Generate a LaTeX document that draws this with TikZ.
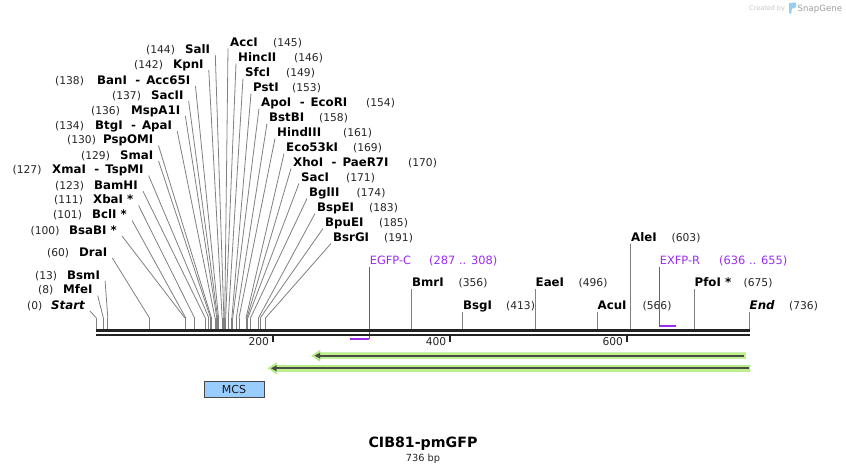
\documentclass[tikz,border=0pt]{standalone}
\usepackage{fontspec}
\setmainfont{DejaVu Sans}
\usetikzlibrary{calc}
\definecolor{trk}{RGB}{35,35,35}
\definecolor{cn}{RGB}{128,128,128}
\definecolor{prm}{RGB}{155,45,240}
\definecolor{glow}{RGB}{190,240,140}
\definecolor{glowedge}{RGB}{165,225,110}
\definecolor{fdark}{RGB}{72,76,68}
\definecolor{mcsfill}{RGB}{153,204,255}
\definecolor{mcsedge}{RGB}{70,70,70}
\definecolor{logoblue}{RGB}{150,205,240}
\tikzset{
  nm/.style={inner sep=0pt, font=\fontsize{11.8}{13}\selectfont\bfseries, text=black},
  num/.style={inner sep=0pt, font=\fontsize{10.7}{12}\selectfont, text=black!85},
  prmtxt/.style={inner sep=0pt, font=\fontsize{11.4}{13}\selectfont, text=prm},
  conn/.style={draw=cn, line width=0.8pt},
  sitetick/.style={draw=cn, line width=0.8pt},
  trackline/.style={draw=trk},
  featline/.style={draw=fdark, line width=2.3pt},
  mcsbox/.style={draw=mcsedge, fill=mcsfill, line width=0.9pt, minimum width=60pt,
    minimum height=16.3pt, inner sep=0pt, font=\fontsize{11}{12}\selectfont, text=black!90}
}
\newcommand\dsep{\hspace{8.5pt}-\hspace{6pt}}
% left-hand cut sites: id, bp, number x, name x, y, name
\newcommand\lsite[6]{%
  \coordinate (t#1) at ({96.3+0.886*#2},318);
  \node[num,anchor=base west] (n#1) at (#3,#5+4) {(#2)};
  \node[nm,anchor=base west] (m#1) at (#4,#5+4) {#6};
  \draw[sitetick] (t#1) -- ++(0,11);
  \draw[conn] ($(m#1.base east)+(5,2)$) -- (t#1);
}
% right-hand cut sites: id, bp, name x, number x, y, name
\newcommand\rsite[6]{%
  \coordinate (t#1) at ({96.3+0.886*#2},318);
  \node[nm,anchor=base west] (m#1) at (#3,#5+4) {#6};
  \node[num,anchor=base west] (n#1) at (#4,#5+4) {(#2)};
  \draw[sitetick] (t#1) -- ++(0,11);
  \draw[conn] ($(m#1.base west)+(-2,2.5)$) -- (t#1);
}
% vertical cut sites: id, bp, name x, number x, y, name
\newcommand\vsite[6]{%
  \node[nm,anchor=base west] (m#1) at (#3,#5+4) {#6};
  \node[num,anchor=base west] (n#1) at (#4,#5+4) {(#2)};
  \coordinate (t#1) at (#3-0.5,329);
  \draw[conn] ($(m#1.base west)+(-0.5,2.5)$) -- (t#1);
}
% feature arrow pointing left: id, tip x, right x, y
\newcommand\featarrow[4]{%
  \coordinate (#1t) at (#2,#4);
  \coordinate (#1e) at (#3,#4);
  \filldraw[fill=glow, draw=glowedge, line width=0.4pt]
    ($(#1t)+(-1.8,0)$) -- ($(#1t)+(6.5,-5.5)$) -- ($(#1t)+(6.5,-3)$) -- ($(#1e)+(0,-3)$)
    -- ($(#1e)+(0,3)$) -- ($(#1t)+(6.5,3)$) -- ($(#1t)+(6.5,5.5)$) -- cycle;
  \draw[featline] ($(#1e)+(-1.5,0)$) -- ($(#1t)+(5,0)$);
  \fill[fdark] ($(#1t)+(1,0)$) -- ($(#1t)+(6.5,-3)$) -- ($(#1t)+(6.5,3)$) -- cycle;
}
\begin{document}
\begin{tikzpicture}[x=1pt,y=-1pt]
\useasboundingbox (0,0) rectangle (846,474);
\fill[white] (0,0) rectangle (846,474);

% watermark
\node[font=\fontsize{6.5}{8}\selectfont, text=black!22, anchor=base west, inner sep=0pt] (cb) at (749,10.5) {Created by};
\fill[logoblue] (789,3) -- (795,2.5) .. controls (796.5,2.5) and (796.5,7.5) .. (795,8) -- (792,8.5) -- (791,14) -- (789,13) -- cycle;
\node[font=\fontsize{8.6}{10}\selectfont, text=black!38, anchor=base west, inner sep=0pt] (sg) at (797.5,11.5) {SnapGene};

% left column
\lsite{sal}{144}{146}{185}{49}{SalI}
\lsite{kpn}{142}{134}{173}{64}{KpnI}
\lsite{ban}{138}{55}{97}{80}{BanI\dsep Acc65I}
\lsite{sactwo}{137}{112}{151}{95}{SacII}
\lsite{msp}{136}{91}{131}{110}{MspA1I}
\lsite{btg}{134}{55}{95}{125}{BtgI\dsep ApaI}
\lsite{psp}{130}{67}{103}{139.5}{PspOMI}
\lsite{sma}{129}{81}{120}{155}{SmaI}
\lsite{xma}{127}{12.5}{52}{169.5}{XmaI\dsep TspMI}
\lsite{bam}{123}{55}{94}{185}{BamHI}
\lsite{xba}{111}{54}{93}{199.5}{XbaI *}
\lsite{bcl}{101}{53}{92}{214.5}{BclI *}
\lsite{bsab}{100}{30.5}{69}{230}{BsaBI *}
\lsite{dra}{60}{47}{79}{252}{DraI}
\lsite{bsm}{13}{35}{67}{275}{BsmI}
\lsite{mfe}{8}{38}{63}{289.5}{MfeI}
\lsite{start}{0}{27}{51}{305}{\itshape Start}

% right column
\rsite{acc}{145}{230}{273}{42}{AccI}
\rsite{hinc}{146}{238}{294}{57}{HincII}
\rsite{sfc}{149}{245}{286}{72}{SfcI}
\rsite{pst}{153}{253}{292}{87}{PstI}
\rsite{apo}{154}{261}{366}{102}{ApoI\dsep EcoRI}
\rsite{bstb}{158}{269}{319}{117}{BstBI}
\rsite{hind}{161}{277}{343}{132}{HindIII}
\rsite{ecofs}{169}{286}{353}{147}{Eco53kI}
\rsite{xho}{170}{293}{408}{162}{XhoI\dsep PaeR7I}
\rsite{sac}{171}{301}{346}{177}{SacI}
\rsite{bgl}{174}{309}{356.5}{192}{BglII}
\rsite{bspe}{183}{317}{369}{207}{BspEI}
\rsite{bpue}{185}{325}{379}{222}{BpuEI}
\rsite{bsrg}{191}{333}{384}{237}{BsrGI}

% sites with vertical leaders
\vsite{ale}{603}{631}{671.5}{237}{AleI}
\vsite{bmr}{356}{412}{458.5}{282}{BmrI}
\vsite{bsg}{413}{463}{506}{305}{BsgI}
\vsite{eae}{496}{535.5}{578.5}{282}{EaeI}
\vsite{acu}{566}{597.5}{642.5}{305}{AcuI}
\vsite{pfo}{675}{694.5}{743.5}{282}{PfoI *}
\vsite{end}{736}{749.5}{789}{305}{\itshape End}

% primers
\node[prmtxt,anchor=base west] (egfp) at (369.6,264) {EGFP-C};
\node[prmtxt,anchor=base west] (egfpn) at (429,264) {(287 .. 308)};
\coordinate (ebarL) at (350,338.7);
\coordinate (ebarR) at (369.3,338.7);
\draw[prm, line width=0.9pt] ($(egfp.base west)+(-0.3,3)$) -- (ebarR);
\draw[prm, line width=2pt] (ebarL) -- (ebarR);

\node[prmtxt,anchor=base west] (exfp) at (659.6,264) {EXFP-R};
\node[prmtxt,anchor=base west] (exfpn) at (719,264) {(636 .. 655)};
\coordinate (xbarL) at (659.3,325.7);
\coordinate (xbarR) at (676,325.7);
\draw[prm, line width=0.9pt] ($(exfp.base west)+(-0.3,3)$) -- (xbarL);
\draw[prm, line width=2pt] (xbarL) -- (xbarR);

% backbone
\coordinate (trkA) at (96,330.6);
\coordinate (trkB) at (750,330.6);
\coordinate (trkC) at (96,335.2);
\coordinate (trkD) at (750,335.2);
\draw[trackline, line width=3pt] (trkA) -- (trkB);
\draw[trackline, line width=2.4pt] (trkC) -- (trkD);

% ruler
\foreach \v/\x in {200/272.7,400/450,600/626.7}{
  \coordinate (r\v) at (\x,334);
  \draw[trackline, line width=1.8pt] (r\v) -- ++(0,8);
  \node[num, anchor=base east] (s\v) at (\x-3.5,345.5) {\v};
}

% features
\featarrow{fa}{313.5}{745.7}{355.7}
\featarrow{fb}{270}{750}{368.3}

\node[mcsbox] (mcs) at (234,389.2) {MCS};

% title
\node[font=\fontsize{14.2}{16}\selectfont\bfseries, anchor=base, inner sep=0pt] (title) at (423,447.5) {CIB81-pmGFP};
\node[font=\fontsize{9.8}{12}\selectfont, anchor=base, inner sep=0pt, text=black!85] (len) at (423,461.7) {736 bp};
\end{tikzpicture}
\end{document}
